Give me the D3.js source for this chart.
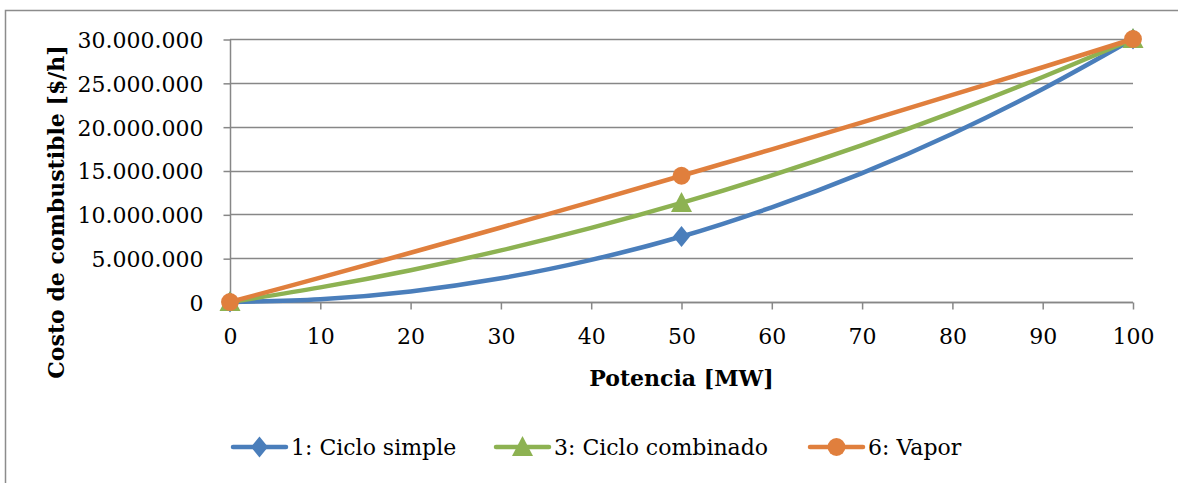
<!DOCTYPE html>
<html>
<head>
<meta charset="utf-8">
<script src="https://cdn.jsdelivr.net/npm/d3@7"></script>
<style>
    body { margin: 0; background: #fff; }
</style>
</head>
<body>
<div id="chart"></div>
<script>
// Potencia [MW]
var potencia = [0, 10, 20, 30, 40, 50, 60, 70, 80, 90, 100];
// Costo de combustible [$/h]
var cicloSimple = [0, 300000, 1200000, 2700000, 4800000, 7470000, 10800000, 14700000, 19200000, 24300000, 30000000];
var cicloCombinado = [0, 1670000, 3630000, 5890000, 8450000, 11300000, 14450000, 17890000, 21630000, 25670000, 30000000];
var vapor = [0, 2780000, 5620000, 8500000, 11420000, 14400000, 17420000, 20500000, 23620000, 26780000, 30000000];
// points that carry a marker
var markerAt = [0, 50, 100];
var seriesNames = ["1: Ciclo simple", "3: Ciclo combinado", "6: Vapor"];
var xTicks = [0, 10, 20, 30, 40, 50, 60, 70, 80, 90, 100];
var yTicks = [0, 5000000, 10000000, 15000000, 20000000, 25000000, 30000000];

var width = 1178,
    height = 483,
    plot = { left: 230, right: 1133, top: 39, bottom: 302 },
    font = "'DejaVu Serif', 'Liberation Serif', serif",
    gridColor = "#878787",
    colors = ["#4a7ebb", "#8db252", "#e07f3d"],
    shapes = ["diamond", "triangle", "circle"];

var locale = d3.formatLocale({ decimal: ",", thousands: ".", grouping: [3], currency: ["$", ""] });
var fmt = locale.format(",d");

var x = d3.scaleLinear().domain([0, 100]).range([plot.left, plot.right]);
var y = d3.scaleLinear().domain([0, 30000000]).range([plot.bottom, plot.top]);

var series = [cicloSimple, cicloCombinado, vapor].map(function (values, i) {
    return {
        name: seriesNames[i],
        color: colors[i],
        shape: shapes[i],
        points: potencia.map(function (p, j) { return { x: p, y: values[j] }; })
    };
});

// marker outlines, centred on 0,0
function markerPath(shape) {
    if (shape == "diamond") return "M0,-10.5L8.5,0L0,10.5L-8.5,0Z";
    if (shape == "triangle") return "M0,-11L10.5,9L-10.5,9Z";
    return d3.symbol().type(d3.symbolCircle).size(250)();
}

var svg = d3.select("#chart").append("svg")
    .attr("width", width)
    .attr("height", height)
    .style("font-family", font);

// chart border
svg.append("rect")
    .attr("x", 5.5)
    .attr("y", 10.5)
    .attr("width", 1200)
    .attr("height", 500)
    .attr("fill", "none")
    .attr("stroke", "#8c8c8c")
    .attr("stroke-width", 1.5);

// gridlines
svg.append("g")
    .selectAll("line")
    .data(yTicks)
    .enter().append("line")
    .attr("x1", plot.left)
    .attr("x2", plot.right)
    .attr("y1", function (d) { return Math.round(y(d)) + 0.5; })
    .attr("y2", function (d) { return Math.round(y(d)) + 0.5; })
    .attr("stroke", gridColor)
    .attr("stroke-width", 1.5);

// y axis
var yAxis = svg.append("g")
    .attr("transform", "translate(" + (plot.left + 0.5) + ",0.5)")
    .call(d3.axisLeft(y).tickValues(yTicks).tickFormat(fmt).tickSize(7).tickPadding(20));
yAxis.attr("font-family", font);
yAxis.select(".domain").attr("stroke", gridColor).attr("stroke-width", 1.5).attr("d", "M0," + plot.top + "V" + plot.bottom);
yAxis.selectAll(".tick line").attr("stroke", gridColor).attr("stroke-width", 1.5);
yAxis.selectAll(".tick text").attr("font-size", 22).attr("fill", "#000").attr("dy", "0.36em");

// x axis
var xAxis = svg.append("g")
    .attr("transform", "translate(0," + (plot.bottom + 0.5) + ")")
    .call(d3.axisBottom(x).tickValues(xTicks).tickFormat(d3.format("d")).tickSize(7).tickPadding(19));
xAxis.attr("font-family", font);
xAxis.select(".domain").attr("stroke", gridColor).attr("stroke-width", 1.5).attr("d", "M" + plot.left + ",0H" + plot.right);
xAxis.selectAll(".tick line").attr("stroke", gridColor).attr("stroke-width", 1.5);
xAxis.selectAll(".tick text").attr("font-size", 22).attr("fill", "#000").attr("dy", "0.71em");

// axis titles
svg.append("text")
    .attr("transform", "translate(64,212) rotate(-90)")
    .attr("text-anchor", "middle")
    .attr("font-family", font)
    .attr("font-size", 22)
    .attr("font-weight", "bold")
    .text("Costo de combustible [$/h]");

svg.append("text")
    .attr("x", (plot.left + plot.right) / 2)
    .attr("y", 386)
    .attr("text-anchor", "middle")
    .attr("font-family", font)
    .attr("font-size", 22)
    .attr("font-weight", "bold")
    .text("Potencia [MW]");

// lines
var line = d3.line()
    .x(function (d) { return x(d.x); })
    .y(function (d) { return y(d.y); })
    .curve(d3.curveCatmullRom);

var groups = svg.append("g")
    .selectAll(".series")
    .data(series)
    .enter().append("g")
    .attr("class", "series");

groups.append("path")
    .attr("d", function (d) { return line(d.points); })
    .attr("fill", "none")
    .attr("stroke", function (d) { return d.color; })
    .attr("stroke-width", 4.5)
    .attr("stroke-linejoin", "round");

groups.each(function (s) {
    d3.select(this).selectAll(".marker")
        .data(s.points.filter(function (p) { return markerAt.indexOf(p.x) >= 0; }))
        .enter().append("path")
        .attr("class", "marker")
        .attr("transform", function (p) { return "translate(" + x(p.x) + "," + y(p.y) + ")"; })
        .attr("d", markerPath(s.shape))
        .attr("fill", s.color);
});

// legend
var legendX = [233, 496, 810];
var legend = svg.append("g")
    .selectAll(".legend")
    .data(series)
    .enter().append("g")
    .attr("class", "legend")
    .attr("transform", function (d, i) { return "translate(" + legendX[i] + ",447)"; });

legend.append("line")
    .attr("x1", 0)
    .attr("x2", 53)
    .attr("stroke", function (d) { return d.color; })
    .attr("stroke-width", 4.5)
    .attr("stroke-linecap", "round");

legend.append("path")
    .attr("transform", "translate(26.5,0)")
    .attr("d", function (d) { return markerPath(d.shape); })
    .attr("fill", function (d) { return d.color; });

legend.append("text")
    .attr("x", 58)
    .attr("dy", "0.36em")
    .attr("font-family", font)
    .attr("font-size", 22)
    .attr("fill", "#000")
    .text(function (d) { return d.name; });
</script>
</body>
</html>
